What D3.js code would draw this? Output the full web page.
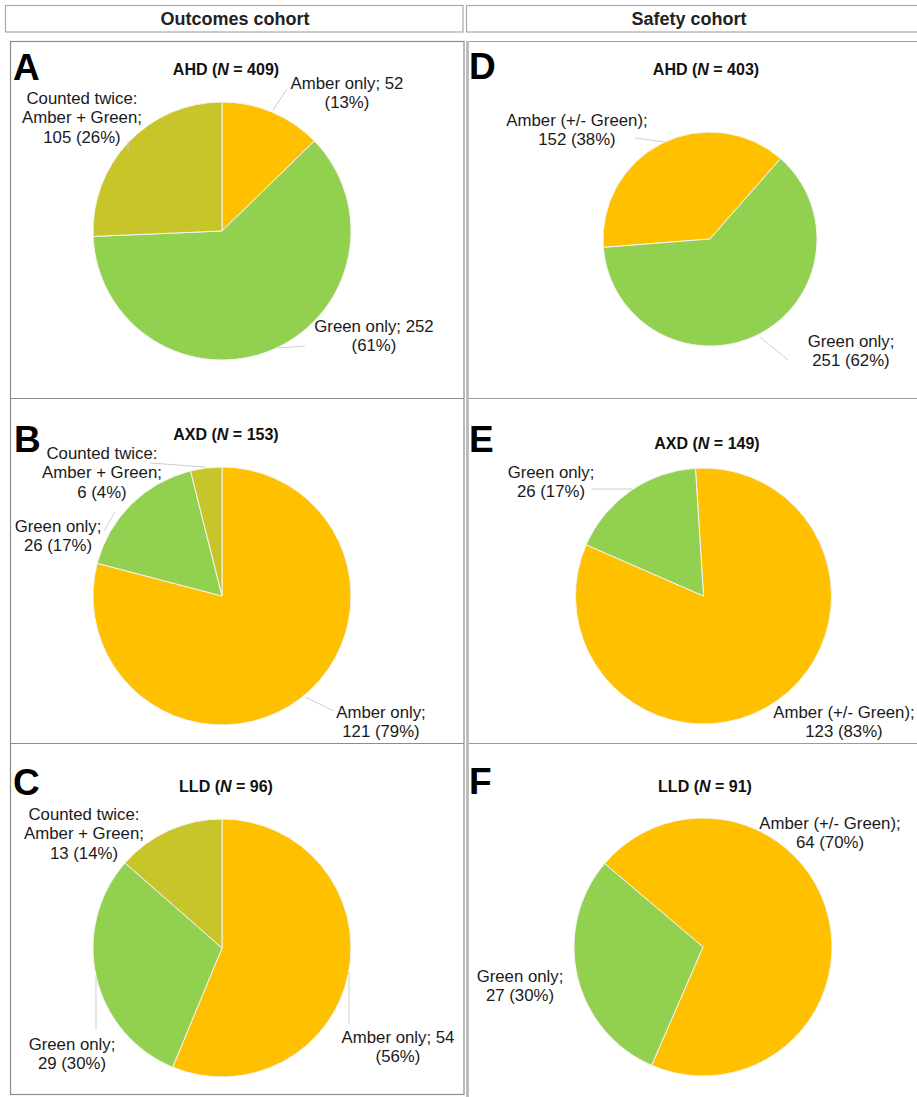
<!DOCTYPE html>
<html>
<head>
<meta charset="utf-8">
<script src="https://cdn.jsdelivr.net/npm/d3@7/dist/d3.min.js"></script>
<style>
  html, body { margin: 0; padding: 0; background: #fff; }
  svg { display: block; font-family: "Liberation Sans", Arial, sans-serif; }
</style>
</head>
<body>
<div id="chart"></div>
<script>
// ---- data -------------------------------------------------------------
const cohorts = ["Outcomes cohort", "Safety cohort"];
const panelLetters = ["A", "B", "C", "D", "E", "F"];
const diseases = ["AHD", "AXD", "LLD", "AHD", "AXD", "LLD"];
const totals = [409, 153, 96, 403, 149, 91];

// Outcomes cohort categories (clockwise order)
const outcomesCategories = ["Amber only", "Green only", "Counted twice:\nAmber + Green"];
const outcomesKeys = ["amber", "green", "both"];
const ahdOutcomes = [52, 252, 105];
const ahdOutcomesPct = [13, 61, 26];
const axdOutcomes = [121, 26, 6];
const axdOutcomesPct = [79, 17, 4];
const lldOutcomes = [54, 29, 13];
const lldOutcomesPct = [56, 30, 14];

// Safety cohort categories (clockwise order)
const safetyCategories = ["Amber (+/- Green)", "Green only"];
const safetyKeys = ["amber", "green"];
const ahdSafety = [152, 251];
const ahdSafetyPct = [38, 62];
const axdSafety = [123, 26];
const axdSafetyPct = [83, 17];
const lldSafety = [64, 27];
const lldSafetyPct = [70, 30];

// ---- styling / layout ------------------------------------------------
const colors = { amber: "#FFC000", green: "#92D050", both: "#C8C52B" };
const W = 917, H = 1097;

const panelSpecs = [
  { values: ahdOutcomes, pct: ahdOutcomesPct, cats: outcomesCategories, keys: outcomesKeys,
    cx: 222, cy: 231, r: 129, start: 0,
    letter: [13, 80], title: [226, 75],
    labels: [
      { pos: [347, 83], wrap: "pct", leader: [[287, 89], [273, 110]] },
      { pos: [374, 326], wrap: "pct", leader: [[278, 348], [305, 346]] },
      { pos: [82, 98], wrap: "value", leader: [[128, 141], [128, 150]] }
    ] },
  { values: axdOutcomes, pct: axdOutcomesPct, cats: outcomesCategories, keys: outcomesKeys,
    cx: 222, cy: 596, r: 129, start: 0,
    letter: [14, 452], title: [226, 440],
    labels: [
      { pos: [381, 712], wrap: "value", leader: [[305, 697], [334, 711]] },
      { pos: [58, 526], wrap: "value", leader: [[104, 531], [115, 512]] },
      { pos: [102, 453], wrap: "value", leader: [[150, 463], [205, 467]] }
    ] },
  { values: lldOutcomes, pct: lldOutcomesPct, cats: outcomesCategories, keys: outcomesKeys,
    cx: 222, cy: 948, r: 129, start: 0,
    letter: [13, 795], title: [226, 792],
    labels: [
      { pos: [398, 1037], wrap: "pct", leader: [[349, 972], [349, 1024]] },
      { pos: [72, 1044], wrap: "value", leader: [[96, 977], [96, 1030]] },
      { pos: [84, 814], wrap: "value", leader: null }
    ] },
  { values: ahdSafety, pct: ahdSafetyPct, cats: safetyCategories, keys: safetyKeys,
    cx: 710, cy: 239, r: 107, start: -94.5,
    letter: [469, 79], title: [706, 75],
    labels: [
      { pos: [577, 120], wrap: "value", leader: [[635, 138], [665, 142]] },
      { pos: [851, 341], wrap: "value", leader: [[760, 337], [788, 360]] }
    ] },
  { values: axdSafety, pct: axdSafetyPct, cats: safetyCategories, keys: safetyKeys,
    cx: 703.5, cy: 596, r: 128, start: -3.6,
    letter: [469, 452], title: [707, 449],
    labels: [
      { pos: [844, 712], wrap: "value", leader: null },
      { pos: [551, 472], wrap: "value", leader: [[592, 489], [632, 489]] }
    ] },
  { values: lldSafety, pct: lldSafetyPct, cats: safetyCategories, keys: safetyKeys,
    cx: 703, cy: 947, r: 129, start: -49.7,
    letter: [469, 794], title: [705, 792],
    labels: [
      { pos: [830, 823], wrap: "value", leader: null },
      { pos: [520, 976], wrap: "value", leader: null }
    ] }
];

const svg = d3.select("#chart").append("svg")
  .attr("width", W).attr("height", H)
  .attr("viewBox", [0, 0, W, H]);

svg.append("rect").attr("width", W).attr("height", H).attr("fill", "#fff");

// ---- frame: header boxes and panel grid --------------------------------
const frame = svg.append("g").attr("fill", "none");
frame.append("rect").attr("x", 5.5).attr("y", 5.5).attr("width", 457.5).attr("height", 26.5)
  .attr("stroke", "#a8a8a8").attr("stroke-width", 1.2);
frame.append("rect").attr("x", 466.5).attr("y", 5.5).attr("width", 470).attr("height", 26.5)
  .attr("stroke", "#a8a8a8").attr("stroke-width", 1.2);

frame.append("rect").attr("x", 10.5).attr("y", 41.5).attr("width", 453.5).attr("height", 1053)
  .attr("stroke", "#8c8c8c").attr("stroke-width", 1.2);
frame.append("line").attr("x1", 466).attr("x2", W).attr("y1", 41.5).attr("y2", 41.5)
  .attr("stroke", "#a0a0a0").attr("stroke-width", 1.2);
frame.append("line").attr("x1", 467.5).attr("x2", 467.5).attr("y1", 41).attr("y2", H)
  .attr("stroke", "#bdbdbd").attr("stroke-width", 3);
[398.5, 743.5].forEach(y => {
  frame.append("line").attr("x1", 10).attr("x2", 464).attr("y1", y).attr("y2", y)
    .attr("stroke", "#8c8c8c").attr("stroke-width", 1.2);
  frame.append("line").attr("x1", 469).attr("x2", W).attr("y1", y).attr("y2", y)
    .attr("stroke", "#9a9a9a").attr("stroke-width", 1.2);
});

// cohort headers
const headerX = [235, 689];
cohorts.forEach((c, i) => {
  svg.append("text").attr("x", headerX[i]).attr("y", 25)
    .attr("text-anchor", "middle").attr("font-size", 18).attr("font-weight", "bold")
    .attr("fill", "#222").text(c);
});

// ---- pies ------------------------------------------------------------
const toRad = d => d * Math.PI / 180;

panelSpecs.forEach((p, i) => {
  const g = svg.append("g");
  const rows = p.values.map((v, k) => ({ value: v, pct: p.pct[k], name: p.cats[k], key: p.keys[k] }));

  const pie = d3.pie().sort(null).value(d => d.value)
    .startAngle(toRad(p.start)).endAngle(toRad(p.start) + 2 * Math.PI);
  const arc = d3.arc().innerRadius(0).outerRadius(p.r);

  g.append("g").attr("transform", `translate(${p.cx},${p.cy})`)
    .selectAll("path").data(pie(rows)).join("path")
    .attr("d", arc)
    .attr("fill", d => colors[d.data.key])
    .attr("stroke", "#f4f4f4").attr("stroke-width", 1);

  // panel letter
  g.append("text").attr("x", p.letter[0]).attr("y", p.letter[1])
    .attr("font-size", 37).attr("font-weight", "bold").attr("fill", "#000")
    .text(panelLetters[i]);

  // title with italic N
  const t = g.append("text").attr("x", p.title[0]).attr("y", p.title[1])
    .attr("text-anchor", "middle").attr("font-size", 16).attr("font-weight", "bold")
    .attr("fill", "#111");
  t.append("tspan").text(`${diseases[i]} (`);
  t.append("tspan").attr("font-style", "italic").text("N");
  t.append("tspan").text(` = ${totals[i]})`);

  // leader lines
  p.labels.forEach(l => {
    if (!l.leader) return;
    g.append("line")
      .attr("x1", l.leader[0][0]).attr("y1", l.leader[0][1])
      .attr("x2", l.leader[1][0]).attr("y2", l.leader[1][1])
      .attr("stroke", "#cfcfcf").attr("stroke-width", 1);
  });

  // data labels
  rows.forEach((d, k) => {
    const l = p.labels[k];
    const nameLines = d.name.split("\n");
    let lines;
    if (l.wrap === "pct") {
      lines = [...nameLines.slice(0, -1), `${nameLines[nameLines.length - 1]}; ${d.value}`, `(${d.pct}%)`];
    } else {
      lines = [...nameLines.slice(0, -1), `${nameLines[nameLines.length - 1]};`, `${d.value} (${d.pct}%)`];
    }
    const txt = g.append("text").attr("text-anchor", "middle")
      .attr("font-size", 16.8).attr("fill", "#1a1a1a");
    lines.forEach((s, j) => {
      txt.append("tspan").attr("x", l.pos[0]).attr("y", l.pos[1] + j * 19.4 + 6).text(s);
    });
  });
});
</script>
</body>
</html>
